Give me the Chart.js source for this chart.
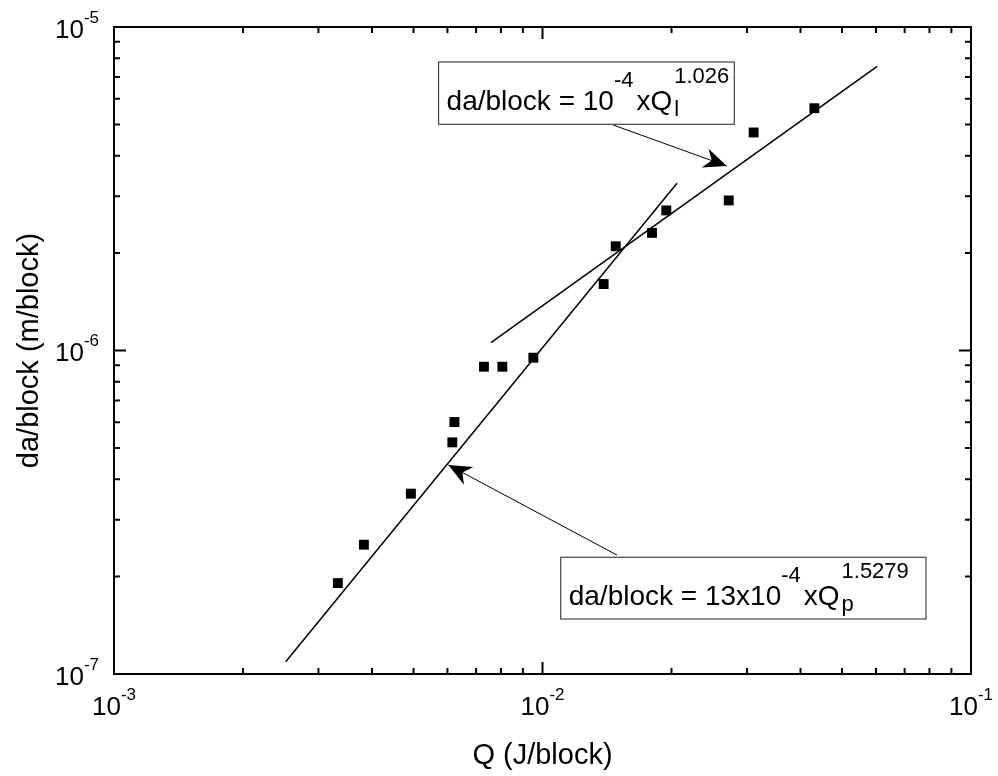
<!DOCTYPE html>
<html>
<head>
<meta charset="utf-8">
<title>da/block vs Q</title>
<script src="https://cdn.jsdelivr.net/npm/chart.js@4/dist/chart.umd.min.js"></script>
<style>
  html, body { margin: 0; padding: 0; background: #fff; }
  canvas { display: block; }
</style>
</head>
<body>
<canvas id="chart" width="998" height="776"></canvas>
<script>
// measured points (Q in J/block, da/block in m/block)
var qValues  = [0.00333, 0.00383, 0.00493, 0.00616, 0.00623, 0.00730, 0.00806, 0.00952,
                0.01389, 0.01482, 0.01801, 0.01945, 0.02720, 0.03110, 0.04310];
var daValues = [1.91e-7, 2.51e-7, 3.61e-7, 5.20e-7, 6.01e-7, 8.91e-7, 8.91e-7, 9.50e-7,
                1.605e-6, 2.10e-6, 2.31e-6, 2.71e-6, 2.91e-6, 4.72e-6, 5.61e-6];

// fitted lines, two end points each
var fitPQ  = [0.002516, 0.0206];
var fitPDa = [1.091e-7, 3.287e-6];
var fitLQ  = [0.00758, 0.0604];
var fitLDa = [1.057e-6, 7.557e-6];

// axis ticks
var xTickValues = [1e-3, 1e-2, 1e-1];
var xTickExps   = ['-3', '-2', '-1'];
var yTickValues = [1e-7, 1e-6, 1e-5];
var yTickExps   = ['-7', '-6', '-5'];

var FONT = 'Arial, "Liberation Sans", sans-serif';
var MAIN = '28px ' + FONT, SMALL = '22px ' + FONT;

function toPoints(xs, ys) {
    return xs.map(function (x, i) { return { x: x, y: ys[i] }; });
}

// draws "10" with a raised exponent
function drawPow(ctx, base, exp, x, y, align) {
    ctx.font = '26px ' + FONT;
    var wb = ctx.measureText(base).width;
    ctx.font = '17px ' + FONT;
    var we = ctx.measureText(exp).width;
    var x0 = align === 'right' ? x - wb - we : x - (wb + we) / 2;
    ctx.textAlign = 'left';
    ctx.textBaseline = 'alphabetic';
    ctx.font = '26px ' + FONT;
    ctx.fillText(base, x0, y);
    ctx.font = '17px ' + FONT;
    ctx.fillText(exp, x0 + wb, y - 15);
}

// rich text: parts of kind m / sup / sub; a sub followed by a sup stack at the same x
function drawRich(ctx, parts, x, y, measureOnly) {
    var x0 = x, i = 0;
    ctx.textAlign = 'left';
    ctx.textBaseline = 'alphabetic';
    while (i < parts.length) {
        var p = parts[i];
        var dy = p.k === 'sup' ? -23 : (p.k === 'sub' ? 6 : 0);
        ctx.font = p.k === 'm' ? MAIN : SMALL;
        if (p.k === 'sub') x += 2;
        if (!measureOnly) ctx.fillText(p.t, x, y + dy);
        var pw = ctx.measureText(p.t).width;
        if (p.k === 'sub' && parts[i + 1] && parts[i + 1].k === 'sup') {
            ctx.font = SMALL;
            if (!measureOnly) ctx.fillText(parts[i + 1].t, x, y - 27);
            pw = Math.max(pw, ctx.measureText(parts[i + 1].t).width);
            i++;
        }
        if (p.k !== 'm') pw += 3;
        x += pw;
        i++;
    }
    return x - x0;
}

function arrow(ctx, x1, y1, x2, y2) {
    ctx.strokeStyle = '#000';
    ctx.lineWidth = 1;
    ctx.beginPath();
    ctx.moveTo(x1, y1);
    ctx.lineTo(x2, y2);
    ctx.stroke();
    var a = Math.atan2(y2 - y1, x2 - x1);
    var len = 23, half = 10, notch = 7;
    ctx.save();
    ctx.translate(x2, y2);
    ctx.rotate(a);
    ctx.fillStyle = '#000';
    ctx.beginPath();
    ctx.moveTo(0, 0);
    ctx.lineTo(-len, -half);
    ctx.lineTo(-len + notch, 0);
    ctx.lineTo(-len, half);
    ctx.closePath();
    ctx.fill();
    ctx.restore();
}

var notes = [
    {
        parts: [{ t: 'da/block = 10', k: 'm' }, { t: '-4', k: 'sup' }, { t: 'xQ', k: 'm' },
                { t: 'l', k: 'sub' }, { t: '1.026', k: 'sup' }],
        right: 0.02803, top: 7.795e-6, bottom: 5.003e-6,
        from: [0.01461, 4.98e-6], to: [0.02692, 3.718e-6]
    },
    {
        parts: [{ t: 'da/block = 13x10', k: 'm' }, { t: '-4', k: 'sup' }, { t: 'xQ', k: 'm' },
                { t: 'p', k: 'sub' }, { t: '1.5279', k: 'sup' }],
        left: 0.011028, right: 0.0785, top: 2.295e-7, bottom: 1.479e-7,
        from: [0.01492, 2.332e-7], to: [0.00603, 4.426e-7]
    }
];

var framePlugin = {
    id: 'frame',
    afterDraw: function (chart) {
        var ctx = chart.ctx;
        var xs = chart.scales.x, ys = chart.scales.y;
        var a = chart.chartArea;
        ctx.save();

        // annotations
        notes.forEach(function (n) {
            var fx = xs.getPixelForValue(n.from[0]), fy = ys.getPixelForValue(n.from[1]);
            var tx = xs.getPixelForValue(n.to[0]), ty = ys.getPixelForValue(n.to[1]);
            arrow(ctx, fx, fy, tx, ty);
            var tw = drawRich(ctx, n.parts, 0, 0, true);
            var right = xs.getPixelForValue(n.right);
            var left = n.left ? xs.getPixelForValue(n.left) : right - tw - 10;
            var top = ys.getPixelForValue(n.top);
            var bottom = ys.getPixelForValue(n.bottom);
            ctx.fillStyle = '#fff';
            ctx.fillRect(left, top, right - left, bottom - top);
            ctx.strokeStyle = '#444';
            ctx.lineWidth = 1.2;
            ctx.strokeRect(left, top, right - left, bottom - top);
            ctx.fillStyle = '#000';
            drawRich(ctx, n.parts, left + 8, top + 48);
        });

        // frame
        ctx.strokeStyle = '#000';
        ctx.lineWidth = 2;
        ctx.strokeRect(a.left, a.top, a.right - a.left, a.bottom - a.top);

        // ticks on all four sides, inward
        var d, k, v, p, len;
        for (d = -3; d < -1; d++) {
            for (k = 1; k < 10; k++) {
                v = k * Math.pow(10, d);
                p = xs.getPixelForValue(v);
                len = k === 1 ? 12 : 6;
                ctx.beginPath();
                ctx.moveTo(p, a.bottom); ctx.lineTo(p, a.bottom - len);
                ctx.moveTo(p, a.top); ctx.lineTo(p, a.top + len);
                ctx.stroke();
            }
        }
        for (d = -7; d < -5; d++) {
            for (k = 1; k < 10; k++) {
                v = k * Math.pow(10, d);
                p = ys.getPixelForValue(v);
                len = k === 1 ? 12 : 6;
                ctx.beginPath();
                ctx.moveTo(a.left, p); ctx.lineTo(a.left + len, p);
                ctx.moveTo(a.right, p); ctx.lineTo(a.right - len, p);
                ctx.stroke();
            }
        }

        // tick labels
        ctx.fillStyle = '#000';
        xTickValues.forEach(function (v, i) {
            drawPow(ctx, '10', xTickExps[i], xs.getPixelForValue(v), a.bottom + 41, 'center');
        });
        yTickValues.forEach(function (v, i) {
            drawPow(ctx, '10', yTickExps[i], a.left - 15, ys.getPixelForValue(v) + 10.5, 'right');
        });
        ctx.restore();
    }
};

var ctx = document.getElementById('chart').getContext('2d');
new Chart(ctx, {
    type: 'scatter',
    data: {
        datasets: [{
            label: 'da/block',
            data: toPoints(qValues, daValues),
            pointStyle: 'rect',
            pointRadius: 7,
            backgroundColor: '#000',
            borderColor: '#000',
            borderWidth: 0
        }, {
            label: 'fit Qp',
            data: toPoints(fitPQ, fitPDa),
            showLine: true,
            pointRadius: 0,
            borderColor: '#000',
            borderWidth: 1.5
        }, {
            label: 'fit Ql',
            data: toPoints(fitLQ, fitLDa),
            showLine: true,
            pointRadius: 0,
            borderColor: '#000',
            borderWidth: 1.5
        }]
    },
    options: {
        responsive: false,
        animation: false,
        devicePixelRatio: 1,
        layout: { padding: { top: 27, right: 27, left: 0, bottom: 0 } },
        plugins: { legend: { display: false }, tooltip: { enabled: false } },
        scales: {
            x: {
                type: 'logarithmic',
                min: 1e-3,
                max: 1e-1,
                grid: { display: false },
                border: { display: false },
                ticks: { display: false },
                title: {
                    display: true,
                    text: 'Q (J/block)',
                    color: '#000',
                    font: { family: FONT, size: 29 },
                    padding: { top: 0, bottom: 3 }
                },
                afterFit: function (s) { s.height = 102; }
            },
            y: {
                type: 'logarithmic',
                min: 1e-7,
                max: 1e-5,
                grid: { display: false },
                border: { display: false },
                ticks: { display: false },
                title: {
                    display: true,
                    text: 'da/block (m/block)',
                    color: '#000',
                    font: { family: FONT, size: 29 },
                    padding: { top: 13, bottom: 0 }
                },
                afterFit: function (s) { s.width = 114; }
            }
        }
    },
    plugins: [framePlugin]
});
</script>
</body>
</html>
